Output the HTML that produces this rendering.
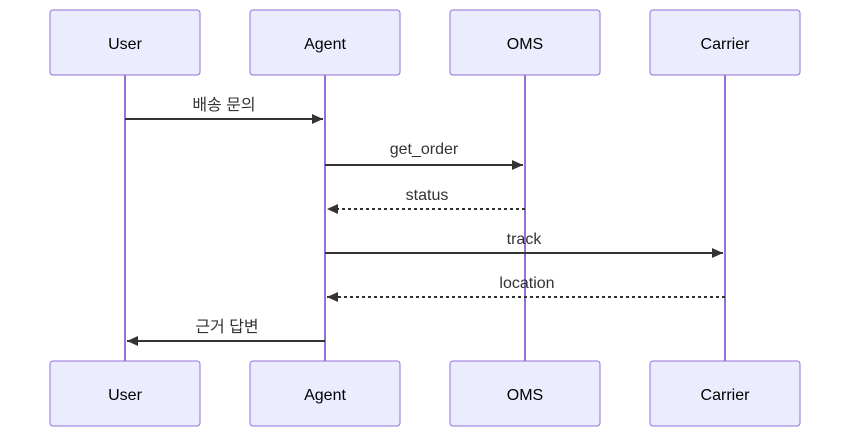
<!DOCTYPE html>
<html><head><meta charset="utf-8"><style>
html,body{margin:0;padding:0;background:#fff;width:850px;height:437px;overflow:hidden}
text{font-family:"Liberation Sans","Noto Sans CJK KR",sans-serif;}
</style></head><body>
<svg width="850" height="437" xmlns="http://www.w3.org/2000/svg">
<defs>
<marker id="a" markerWidth="12" markerHeight="12" refX="11" refY="5" orient="auto" markerUnits="userSpaceOnUse">
<path d="M0,0 L11,5 L0,10 z" fill="#333"/></marker>
</defs>
<g stroke="#9370DB" stroke-width="2">
<line x1="125" y1="75" x2="125" y2="361"/>
<line x1="325" y1="75" x2="325" y2="361"/>
<line x1="525" y1="75" x2="525" y2="361"/>
<line x1="725" y1="75" x2="725" y2="361"/>
</g>
<g fill="#ECECFF" stroke="#9370DB" stroke-width="1">
<rect x="50" y="10" width="150" height="65" rx="3"/>
<rect x="250" y="10" width="150" height="65" rx="3"/>
<rect x="450" y="10" width="150" height="65" rx="3"/>
<rect x="650" y="10" width="150" height="65" rx="3"/>
<rect x="50" y="361" width="150" height="65" rx="3"/>
<rect x="250" y="361" width="150" height="65" rx="3"/>
<rect x="450" y="361" width="150" height="65" rx="3"/>
<rect x="650" y="361" width="150" height="65" rx="3"/>
</g>
<g font-size="16" text-anchor="middle" fill="#000">
<text x="125" y="49">User</text><text x="325" y="49">Agent</text><text x="525" y="49">OMS</text><text x="725" y="49">Carrier</text>
<text x="125" y="400">User</text><text x="325" y="400">Agent</text><text x="525" y="400">OMS</text><text x="725" y="400">Carrier</text>
</g>
<g stroke="#333" stroke-width="2" marker-end="url(#a)">
<line x1="125" y1="119" x2="323" y2="119"/>
<line x1="325" y1="165" x2="523" y2="165"/>
<line x1="525" y1="209" x2="327" y2="209" stroke-dasharray="3,3"/>
<line x1="325" y1="253" x2="723" y2="253"/>
<line x1="725" y1="297" x2="327" y2="297" stroke-dasharray="3,3"/>
<line x1="325" y1="341" x2="127" y2="341"/>
</g>
<g font-size="16" text-anchor="middle" fill="#333">
<text x="224" y="110">배송 문의</text>
<text x="424" y="154">get_order</text>
<text x="427" y="200">status</text>
<text x="524" y="244">track</text>
<text x="527" y="288">location</text>
<text x="227" y="332">근거 답변</text>
</g>
</svg>
</body></html>
